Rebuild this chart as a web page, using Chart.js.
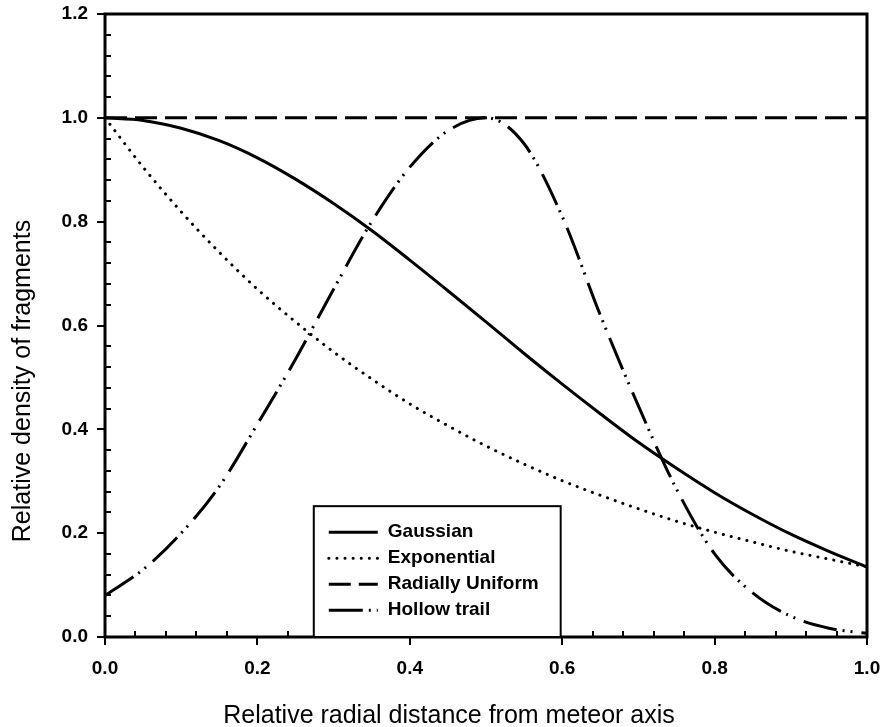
<!DOCTYPE html>
<html>
<head>
<meta charset="utf-8">
<script src="https://cdn.jsdelivr.net/npm/chart.js@4.4.1/dist/chart.umd.min.js"></script>
<style>
  html, body { margin: 0; padding: 0; background: #fff; }
  #wrap { width: 884px; height: 727px; }
</style>
</head>
<body>
<div id="wrap"><canvas id="densityChart" width="884" height="727"></canvas></div>
<script>
// radial distance samples and the four density profiles
const radius = [0.00, 0.05, 0.10, 0.15, 0.20, 0.25, 0.30, 0.35, 0.40, 0.45, 0.50,
                0.55, 0.60, 0.65, 0.70, 0.75, 0.80, 0.85, 0.90, 0.95, 1.00];
const gaussian = [1.00, 0.995, 0.98, 0.956, 0.923, 0.882, 0.835, 0.783, 0.726, 0.667, 0.607,
                  0.546, 0.487, 0.43, 0.375, 0.325, 0.278, 0.236, 0.198, 0.165, 0.135];
const exponential = [1.00, 0.905, 0.819, 0.741, 0.67, 0.607, 0.549, 0.497, 0.449, 0.407, 0.368,
                     0.333, 0.301, 0.273, 0.247, 0.223, 0.202, 0.183, 0.165, 0.15, 0.135];
const radiallyUniform = [1, 1, 1, 1, 1, 1, 1, 1, 1, 1, 1, 1, 1, 1, 1, 1, 1, 1, 1, 1, 1];
const hollowTrail = [0.08, 0.13, 0.20, 0.29, 0.41, 0.535, 0.67, 0.80, 0.905, 0.975, 1.00,
                     0.95, 0.81, 0.62, 0.445, 0.285, 0.16, 0.085, 0.04, 0.017, 0.007];

const seriesNames = ['Gaussian', 'Exponential', 'Radially Uniform', 'Hollow trail'];
const xTitle = 'Relative radial distance from meteor axis';
const yTitle = 'Relative density of fragments';

const FONT = '"Liberation Sans", Arial, sans-serif';
const pts = ys => radius.map((x, i) => ({ x: x, y: ys[i] }));
const isMajor = v => Math.abs(v * 5 - Math.round(v * 5)) < 1e-6;

function line(label, ys, dash, cap) {
    return {
        label: label, data: pts(ys), borderColor: '#000', borderWidth: 3,
        borderDash: dash, borderCapStyle: cap || 'butt', pointRadius: 0,
        cubicInterpolationMode: 'monotone', fill: false
    };
}

// keep tick labels from pushing the plot area in; layout padding decides it
function noOverhang(s) {
    s.paddingTop = 0; s.paddingBottom = 0; s.paddingLeft = 0; s.paddingRight = 0;
}

// frame, ticks, legend box and axis titles, drawn like the original figure
const figurePlugin = {
    id: 'figure',
    afterDraw(chart) {
        const ctx = chart.ctx;
        const a = chart.chartArea;
        const xs = chart.scales.x, ys = chart.scales.y;
        ctx.save();
        ctx.strokeStyle = '#000';
        ctx.lineWidth = 3;
        ctx.strokeRect(a.left, a.top, a.right - a.left, a.bottom - a.top);

        ctx.lineWidth = 2;
        ctx.beginPath();
        ys.ticks.forEach(t => {
            const y = Math.round(ys.getPixelForValue(t.value));
            if (isMajor(t.value)) { ctx.moveTo(a.left - 8, y); ctx.lineTo(a.left, y); }
            else { ctx.moveTo(a.left, y); ctx.lineTo(a.left + 6, y); }
        });
        xs.ticks.forEach(t => {
            const x = Math.round(xs.getPixelForValue(t.value));
            if (isMajor(t.value)) { ctx.moveTo(x, a.bottom); ctx.lineTo(x, a.bottom + 8); }
            else { ctx.moveTo(x, a.bottom); ctx.lineTo(x, a.bottom - 6); }
        });
        ctx.stroke();

        // legend box sitting on the x axis
        const bl = xs.getPixelForValue(0.274), br = xs.getPixelForValue(0.598);
        const bt = ys.getPixelForValue(0.252);
        ctx.fillStyle = '#fff';
        ctx.fillRect(bl, bt, br - bl, a.bottom - bt);
        ctx.lineWidth = 2;
        ctx.strokeRect(bl, bt, br - bl, a.bottom - bt);
        ctx.font = 'bold 19px ' + FONT;
        ctx.textBaseline = 'middle';
        ctx.fillStyle = '#000';
        chart.data.datasets.forEach((ds, i) => {
            const y = bt + 26 * (i + 1);
            ctx.beginPath();
            ctx.lineWidth = ds.borderWidth;
            ctx.setLineDash(ds.borderDash || []);
            ctx.lineCap = ds.borderCapStyle;
            ctx.moveTo(bl + 15, y);
            ctx.lineTo(bl + 64, y);
            ctx.stroke();
            ctx.setLineDash([]);
            ctx.fillText(ds.label, bl + 74, y);
        });

        ctx.font = '25px ' + FONT;
        ctx.textAlign = 'center';
        ctx.fillText(xTitle, 449, 716);
        ctx.translate(23, 381);
        ctx.rotate(-Math.PI / 2);
        ctx.fillText(yTitle, 0, 0);
        ctx.restore();
    }
};

new Chart(document.getElementById('densityChart'), {
    type: 'line',
    data: {
        datasets: [
            line(seriesNames[0], gaussian, []),
            line(seriesNames[1], exponential, [0.1, 8], 'round'),
            line(seriesNames[2], radiallyUniform, [22, 8]),
            line(seriesNames[3], hollowTrail, [34, 6, 2, 6, 2, 9])
        ]
    },
    options: {
        responsive: false,
        animation: false,
        layout: { padding: { left: 0, top: 14, right: 17, bottom: 0 } },
        plugins: { legend: { display: false }, tooltip: { enabled: false } },
        scales: {
            x: {
                type: 'linear', min: 0, max: 1,
                afterFit: s => { s.height = 90; noOverhang(s); },
                grid: { display: false, drawTicks: false },
                border: { display: false },
                ticks: {
                    stepSize: 0.04, autoSkip: false, maxRotation: 0, padding: 20,
                    color: '#000', font: { family: FONT, size: 19, weight: 'bold' },
                    callback: v => isMajor(v) ? v.toFixed(1) : ''
                }
            },
            y: {
                min: 0, max: 1.2,
                afterFit: s => { s.width = 105; noOverhang(s); },
                grid: { display: false, drawTicks: false },
                border: { display: false },
                ticks: {
                    stepSize: 0.04, autoSkip: false, padding: 17,
                    color: '#000', font: { family: FONT, size: 19, weight: 'bold' },
                    callback: v => isMajor(v) ? v.toFixed(1) : ''
                }
            }
        }
    },
    plugins: [figurePlugin]
});
</script>
</body>
</html>
